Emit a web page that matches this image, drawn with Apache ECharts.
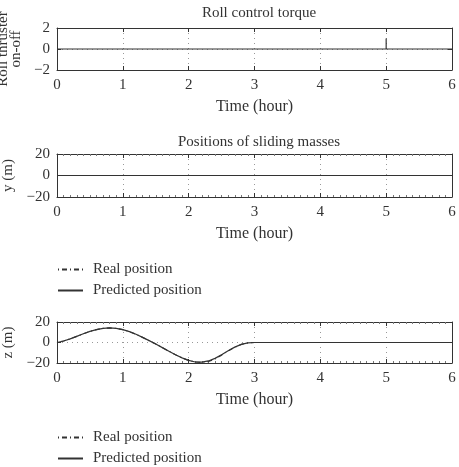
<!DOCTYPE html>
<html><head><meta charset="utf-8">
<script src="https://cdn.jsdelivr.net/npm/echarts@6/dist/echarts.min.js"></script>
<style>html,body{margin:0;padding:0;background:#fff}#c{width:459px;height:467px}</style>
</head><body><div id="c"></div>
<script>
var timeRoll = [0, 5, 5, 5, 6];
var rollValues = [0, 0, 1, 0, 0];

var timeY = [0, 6];
var yReal = [0, 0];
var yPred = [0, 0];

var timeZ = [0,0.1,0.2,0.3,0.4,0.5,0.6,0.7,0.8,0.9,1.0,1.1,1.2,1.3,1.4,1.5,1.6,1.7,1.8,1.9,2.0,2.1,2.2,2.3,2.4,2.5,2.6,2.7,2.8,2.9,3.0,4.0,5.0,6.0];
var zPred = [0,1.5,3.5,6,8.5,10.8,12.6,13.8,14.2,13.8,12.6,10.6,8,5,1.8,-1.5,-5,-8.5,-12,-15,-17.5,-19,-19.2,-18,-15.5,-12,-8,-4.5,-1.8,-0.3,0,0,0,0];
var zReal = [0,1.5,3.5,6,8.5,10.8,12.6,13.8,14.2,13.8,12.6,10.6,8,5,1.8,-1.5,-5,-8.5,-12,-15,-17.5,-19,-19.5,-18.6,-16,-12.3,-8.2,-4.6,-1.9,-0.3,0,0,0,0];

var xTicks = [0,1,2,3,4,5,6];
var titles = ['Roll control torque', 'Positions of sliding masses'];
var legendNames = ['Real position', 'Predicted position'];

function pairs(xs, ys){ return xs.map(function(x,i){return [x, ys[i]];}); }

var FONT = 'Liberation Serif';
var INK = '#333';
var FS = 15;
var grids = [
  {left:57, right:7, top:28, height:42, outerBoundsMode:'none', containLabel:false},
  {left:57, right:7, top:154, height:43, outerBoundsMode:'none', containLabel:false},
  {left:57, right:7, top:322, height:41, outerBoundsMode:'none', containLabel:false}
];
var yRanges = [[-2,2,2],[-20,20,20],[-20,20,20]];
var yNames = ['Roll thruster\non-off', 'y (m)', 'z (m)'];
var yNameGaps = [29, 39, 39];
var minorOn = [false, true, true];

var xAxes = [], yAxes = [];
grids.forEach(function(g, i){
  var base = {
    type:'value', gridIndex:i, min:xTicks[0], max:xTicks[xTicks.length-1], interval:1,
    axisLine:{show:true, onZero:false, lineStyle:{color:INK, width:1}},
    axisTick:{show:true, inside:true, length:4, lineStyle:{color:INK}},
    minorTick:{show:minorOn[i], splitNumber:10, length:2, lineStyle:{color:'#777'}},
    splitLine:{show:false}
  };
  xAxes.push(Object.assign({}, base, {
    position:'bottom',
    axisLabel:{show:true, color:INK, fontFamily:FONT, fontSize:FS, margin:8},
    splitLine:{show:true, lineStyle:{color:'#999', type:[1,4], width:1}},
    name:'Time (hour)', nameLocation:'middle', nameGap:29,
    nameTextStyle:{color:INK, fontFamily:FONT, fontSize:16}
  }));
  xAxes.push(Object.assign({}, base, {position:'top', axisLabel:{show:false}}));
  var ybase = {
    type:'value', gridIndex:i, min:yRanges[i][0], max:yRanges[i][1], interval:yRanges[i][2],
    axisLine:{show:true, onZero:false, lineStyle:{color:INK, width:1}},
    axisTick:{show:true, inside:true, length:4, lineStyle:{color:INK}},
    splitLine:{show:false}
  };
  yAxes.push(Object.assign({}, ybase, {
    position:'left',
    axisLabel:{show:true, color:INK, fontFamily:FONT, fontSize:FS, margin:7,
      formatter:function(v){ return v < 0 ? '\u2212' + Math.abs(v) : String(v); }},
    splitLine:{show:true, lineStyle:{color:'#999', type:[1,4], width:1}},
    name:yNames[i], nameLocation:'middle', nameGap:yNameGaps[i],
    nameTextStyle:{color:INK, fontFamily:FONT, fontSize:FS, lineHeight:13}
  }));
  yAxes.push(Object.assign({}, ybase, {position:'right', axisLabel:{show:false}}));
});

var dashDot = [1,3,5,3];
function lineSeries(name, xi, data, dashed){
  return {
    type:'line', name:name, xAxisIndex:xi*2, yAxisIndex:xi*2, data:data,
    symbol:'none', animation:false, itemStyle:{color:INK},
    lineStyle:{color:INK, width:1.2, type: dashed ? dashDot : 'solid'}
  };
}

var series = [
  {type:'line', name:'Roll', xAxisIndex:0, yAxisIndex:0, data:pairs(timeRoll, rollValues),
   symbol:'none', animation:false, lineStyle:{color:INK, width:1.2}},
  lineSeries(legendNames[0], 1, pairs(timeY, yReal), true),
  lineSeries(legendNames[1], 1, pairs(timeY, yPred), false),
  lineSeries(legendNames[0], 2, pairs(timeZ, zReal), true),
  lineSeries(legendNames[1], 2, pairs(timeZ, zPred), false)
];

var legendCommon = {
  orient:'vertical', left:57, itemWidth:25, itemHeight:10, itemGap:6, padding:0, height:60,
  data:legendNames, selectedMode:false,
  itemStyle:{opacity:0},
  textStyle:{color:INK, fontFamily:FONT, fontSize:FS, padding:[0,0,0,5]}
};

var option = {
  backgroundColor:'#fff',
  animation:false,
  title:[
    {text:titles[0], left:254, textAlign:'center', top:1, textStyle:{color:INK, fontFamily:FONT, fontSize:FS, fontWeight:'normal'}},
    {text:titles[1], left:254, textAlign:'center', top:130, textStyle:{color:INK, fontFamily:FONT, fontSize:FS, fontWeight:'normal'}}
  ],
  legend:[
    Object.assign({}, legendCommon, {top:262}),
    Object.assign({}, legendCommon, {top:430})
  ],
  grid:grids,
  xAxis:xAxes,
  yAxis:yAxes,
  series:series
};
var chart = echarts.init(document.getElementById('c'));
chart.setOption(option);
</script>
</body></html>
